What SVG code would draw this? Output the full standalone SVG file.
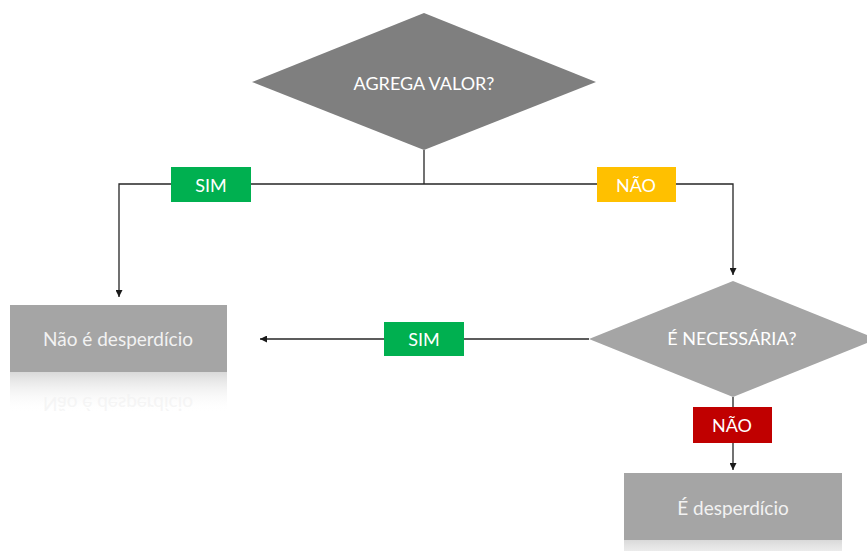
<svg xmlns="http://www.w3.org/2000/svg" width="867" height="551" viewBox="0 0 867 551">
  <style>
    .lbl { font-family: Lato, "Open Sans", "Liberation Sans", sans-serif; font-size: 18px; fill: #ffffff; text-anchor: middle; dominant-baseline: central; }
    .boxtxt { font-family: Lato, "Open Sans", "Liberation Sans", sans-serif; font-size: 19px; fill: #f2f2f2; text-anchor: middle; dominant-baseline: central; }
    .wire { fill: none; stroke: #262626; stroke-width: 1.3; }
  </style>
  <defs>
    <marker id="arrow" viewBox="0 0 10 10" refX="10" refY="5" markerWidth="7" markerHeight="7" orient="auto" markerUnits="userSpaceOnUse">
      <path d="M0,0 L10,5 L0,10 z" fill="#1a1a1a"/>
    </marker>
    <linearGradient id="fade" x1="0" y1="0" x2="0" y2="1">
      <stop offset="0" stop-color="#d9d9d9"/>
      <stop offset="1" stop-color="#ffffff" stop-opacity="0"/>
    </linearGradient>
    <clipPath id="reflClip">
      <rect x="10" y="372" width="217" height="40"/>
    </clipPath>
  </defs>
  <rect width="867" height="551" fill="#ffffff"/>

  <g id="connectors">
    <path class="wire" d="M424,150 V184"/>
    <path class="wire" d="M424,184 H119 V297" marker-end="url(#arrow)"/>
    <path class="wire" d="M424,184 H733 V275" marker-end="url(#arrow)"/>
    <path class="wire" d="M589,339 H260" marker-end="url(#arrow)"/>
    <path class="wire" d="M733,397 V470" marker-end="url(#arrow)"/>
  </g>

  <g id="decision-valor">
    <polygon points="252,82 424,13 596,82 424,150" fill="#7f7f7f"/>
    <text class="lbl" x="424" y="83">AGREGA VALOR?</text>
  </g>

  <g id="decision-necessaria">
    <polygon points="589,339 733,281 877,339 733,397" fill="#a5a5a5"/>
    <text class="lbl" x="732" y="338">É NECESSÁRIA?</text>
  </g>

  <g id="box-nao-desperdicio">
    <rect x="10" y="305" width="217" height="67" fill="#a5a5a5"/>
    <rect x="10" y="372" width="217" height="40" fill="url(#fade)"/>
    <text class="boxtxt" x="118" y="338">Não é desperdício</text>
    <g clip-path="url(#reflClip)">
      <text class="boxtxt" x="118" y="-404" transform="scale(1,-1)" fill="#ffffff" opacity="0.7">Não é desperdício</text>
    </g>
  </g>

  <g id="box-desperdicio">
    <rect x="624" y="473" width="218" height="67" fill="#a5a5a5"/>
    <rect x="624" y="540" width="218" height="40" fill="url(#fade)"/>
    <text class="boxtxt" x="733" y="507">É desperdício</text>
  </g>

  <g id="tag-sim-top">
    <rect x="171" y="167" width="80" height="35" fill="#00b050"/>
    <text class="lbl" x="211" y="185">SIM</text>
  </g>
  <g id="tag-nao-top">
    <rect x="597" y="167" width="79" height="35" fill="#ffc000"/>
    <text class="lbl" x="636" y="185">NÃO</text>
  </g>
  <g id="tag-sim-mid">
    <rect x="384" y="322" width="80" height="34" fill="#00b050"/>
    <text class="lbl" x="424" y="339">SIM</text>
  </g>
  <g id="tag-nao-bottom">
    <rect x="693" y="407" width="79" height="36" fill="#c00000"/>
    <text class="lbl" x="732" y="425">NÃO</text>
  </g>
</svg>
